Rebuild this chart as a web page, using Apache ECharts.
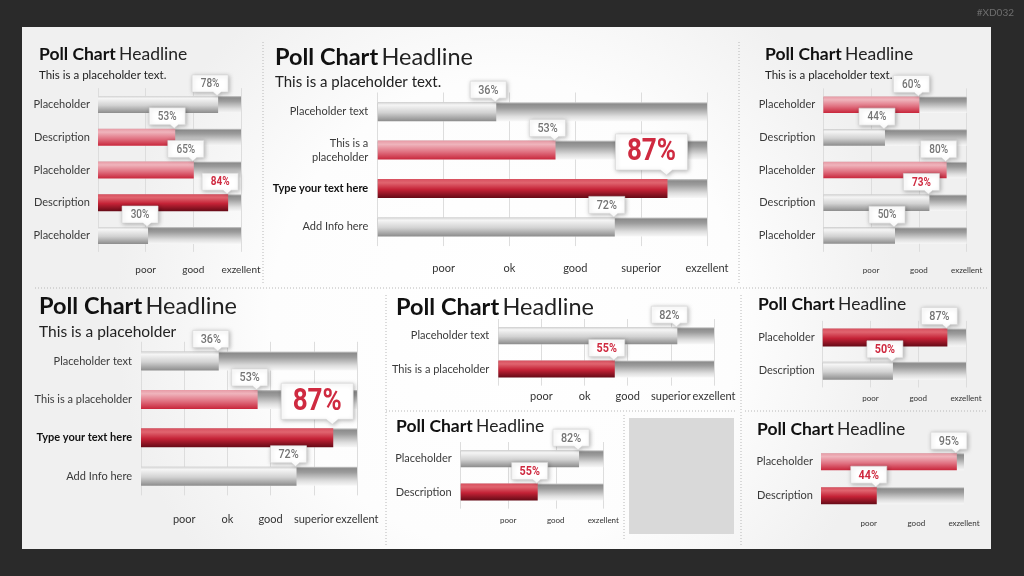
<!DOCTYPE html>
<html><head><meta charset="utf-8">
<script src="https://cdn.jsdelivr.net/npm/echarts@6/dist/echarts.min.js"></script>
<style>html,body{margin:0;padding:0;background:#2a2a2a}#c{width:1024px;height:576px}</style>
</head><body><div id="c"></div><script>
// ---------- data ----------
const ticks3 = ['poor', 'good', 'exzellent'];
const ticks5 = ['poor', 'ok', 'good', 'superior', 'exzellent'];

const p1Categories = ['Placeholder', 'Description', 'Placeholder', 'Description', 'Placeholder'];
const p1Values = [84, 54, 67, 91, 35];
const p1Callouts = ['78%', '53%', '65%', '84%', '30%'];

const p2Categories = ['Placeholder text', 'This is a\nplaceholder', 'Type your text here', 'Add Info here'];
const p2Values = [36, 54, 88, 72];
const p2Callouts = ['36%', '53%', '87%', '72%'];

const p3Categories = ['Placeholder', 'Description', 'Placeholder', 'Description', 'Placeholder'];
const p3Values = [67, 43, 86, 74, 50];
const p3Callouts = ['60%', '44%', '80%', '73%', '50%'];

const p4Categories = ['Placeholder text', 'This is a placeholder', 'Type your text here', 'Add Info here'];
const p4Values = [36, 54, 89, 72];
const p4Callouts = ['36%', '53%', '87%', '72%'];

const p5Categories = ['Placeholder text', 'This is a placeholder'];
const p5Values = [83, 54];
const p5Callouts = ['82%', '55%'];

const p6Categories = ['Placeholder', 'Description'];
const p6Values = [83, 54];
const p6Callouts = ['82%', '55%'];

const p7Categories = ['Placeholder', 'Description'];
const p7Values = [87, 49];
const p7Callouts = ['87%', '50%'];

const p8Categories = ['Placeholder', 'Description'];
const p8Values = [95, 39];
const p8Callouts = ['95%', '44%'];

// ---------- layout / style ----------
const FONT = 'Lato, "Open Sans", sans-serif';
const NUMFONT = 'Roboto, "Liberation Sans", sans-serif';

const panels = [
  {cats: p1Categories, vals: p1Values, calls: p1Callouts, ticks: ticks3, left: 98, right: 241, c0: 104.5, band: 32.75, barH: 17, xLabY: 270.5, xfs: 10, yfs: 11, ym: 8, tones: ['gray','pink','pink','red','gray'], red: [3], big: -1, cfs: 12.5, grid: true, bold: -1},
  {cats: p2Categories, vals: p2Values, calls: p2Callouts, ticks: ticks5, left: 377.7, right: 707, c0: 111.7, band: 38.4, barH: 19, xLabY: 269.5, xfs: 11, yfs: 11, ym: 9.5, tones: ['gray','pink','red','gray'], red: [2], big: 2, cfs: 13.5, grid: true, bold: 2},
  {cats: p3Categories, vals: p3Values, calls: p3Callouts, ticks: ticks3, left: 823.3, right: 966.7, c0: 104.7, band: 32.7, barH: 16.5, xLabY: 270.7, xfs: 8, yfs: 11, ym: 8, tones: ['pink','gray','pink','gray','gray'], red: [3], big: -1, cfs: 12.5, grid: true, bold: -1},
  {cats: p4Categories, vals: p4Values, calls: p4Callouts, ticks: ticks5, left: 141, right: 357, c0: 361, band: 38.4, barH: 19, xLabY: 519.8, xfs: 11, yfs: 11, ym: 9, tones: ['gray','pink','red','gray'], red: [2], big: 2, cfs: 13.5, grid: true, bold: 2},
  {cats: p5Categories, vals: p5Values, calls: p5Callouts, ticks: ticks5, left: 498.3, right: 714, c0: 335.7, band: 33.3, barH: 17, xLabY: 397, xfs: 11, yfs: 11, ym: 9, tones: ['gray','red'], red: [1], big: -1, cfs: 13.5, grid: true, bold: -1},
  {cats: p6Categories, vals: p6Values, calls: p6Callouts, ticks: ticks3, left: 460.7, right: 603.3, c0: 458.7, band: 33.3, barH: 17, xLabY: 520.5, xfs: 8, yfs: 11, ym: 9, tones: ['gray','red'], red: [1], big: -1, cfs: 13.5, grid: true, bold: -1},
  {cats: p7Categories, vals: p7Values, calls: p7Callouts, ticks: ticks3, left: 822.7, right: 966, c0: 337.5, band: 33.3, barH: 18, xLabY: 398.5, xfs: 8, yfs: 11, ym: 8, tones: ['red','gray'], red: [1], big: -1, cfs: 13.5, grid: true, bold: -1},
  {cats: p8Categories, vals: p8Values, calls: p8Callouts, ticks: ticks3, left: 821, right: 964, c0: 461.7, band: 34, barH: 17, xLabY: 524, xfs: 8, yfs: 11, ym: 8, tones: ['pink','red'], red: [1], big: -1, cfs: 13.5, grid: false, bold: -1}
];

const titles = [
  {x: 39, y: 54, fs: 17.5}, {x: 275, y: 57.5, fs: 23.5}, {x: 765, y: 54, fs: 17.5}, {x: 39, y: 306.5, fs: 23.5},
  {x: 396, y: 307.5, fs: 23.5}, {x: 396, y: 426, fs: 17.5}, {x: 758, y: 304.5, fs: 17.5}, {x: 757, y: 429.5, fs: 17.5}
];
const subtitles = [
  {x: 39, y: 75, fs: 11.5, t: 'This is a placeholder text.'},
  {x: 275, y: 82.5, fs: 15, t: 'This is a placeholder text.'},
  {x: 765, y: 75, fs: 11.5, t: 'This is a placeholder text.'},
  {x: 39, y: 332, fs: 15.5, t: 'This is a placeholder'}
];
const dots = [
  [263, 42, 263, 283], [739, 42, 739, 283], [35, 288, 988, 288],
  [386, 295, 386, 545], [386, 411, 735, 411], [624, 415, 624, 540],
  [741, 295, 741, 545], [745, 411, 988, 411]
];

function grad(stops) {
  return new echarts.graphic.LinearGradient(0, 0, 0, 1, stops.map(s => ({offset: s[0], color: s[1]})));
}
const TONES = {
  track: [[0,'#cfcfcf'],[0.1,'#8c8c8c'],[0.3,'#9c9c9c'],[0.75,'#dedede'],[1,'#f7f7f7']],
  gray: [[0,'#d2d2d2'],[0.15,'#f5f5f5'],[0.55,'#d2d2d2'],[1,'#8c8c8c']],
  pink: [[0,'#e79aa5'],[0.2,'#efb4bc'],[0.6,'#e07080'],[1,'#c8263b']],
  red: [[0,'#d8505f'],[0.2,'#e0646f'],[0.55,'#c42236'],[1,'#650a16']]
};

function makeCallout(cfg) {
  return function (params, api) {
    const i = params.dataIndex;
    const p = api.coord([api.value(0), api.value(1)]);
    const big = i === cfg.big;
    const isRed = cfg.red.indexOf(i) >= 0;
    const w = big ? 72 : 36, h = big ? 36 : 17;
    const lo = big ? 52 : 26;
    const gap = big ? 9 : 4;
    const tipH = big ? 5 : 3.5, tipW = big ? 6 : 4;
    const barTop = p[1] - cfg.barH / 2;
    const tx = p[0] - 1;
    const x0 = p[0] - lo, x1 = x0 + w, y1 = barTop - gap, y0 = y1 - h;
    const pts = [[x0, y0], [x1, y0], [x1, y1], [tx + tipW, y1], [tx, y1 + tipH], [tx - tipW, y1], [x0, y1]];
    const fs = big ? 31 : cfg.cfs;
    return {
      type: 'group',
      children: [
        {type: 'polygon', shape: {points: pts},
         style: {fill: '#ffffff', stroke: '#d6d6d6', lineWidth: 0.6, shadowBlur: 4, shadowColor: 'rgba(0,0,0,0.28)', shadowOffsetX: 1, shadowOffsetY: 1}},
        {type: 'text', x: (x0 + x1) / 2, y: (y0 + y1) / 2 + 0.5, scaleX: big ? 0.84 : 0.8,
         style: {text: cfg.calls[i], x: 0, y: 0, align: 'center', verticalAlign: 'middle',
                 fill: isRed ? '#cf2a40' : '#747474',
                 font: (isRed || big ? 'bold ' : '500 ') + fs + 'px ' + NUMFONT}}
      ]
    };
  };
}

const grids = [], xAxes = [], yAxes = [], series = [];
panels.forEach((cfg, i) => {
  const n = cfg.cats.length;
  const top = cfg.c0 - cfg.band / 2;
  const height = n * cfg.band;
  const step = 100 / cfg.ticks.length;
  grids.push({left: cfg.left, top: top, width: cfg.right - cfg.left, height: height, containLabel: false, outerBoundsMode: 'none'});
  xAxes.push({
    gridIndex: i, type: 'value', min: 0, max: 100, interval: step,
    axisLine: {show: false}, axisTick: {show: false},
    splitLine: {show: cfg.grid, lineStyle: {color: '#dddddd', width: 1}},
    axisLabel: {fontSize: cfg.xfs, color: '#333', fontFamily: FONT,
      margin: cfg.xLabY - (top + height) - cfg.xfs * 0.55,
      formatter: v => v < 1 ? '' : (cfg.ticks[Math.round(v / step) - 1] || '')}
  });
  yAxes.push({
    gridIndex: i, type: 'category', inverse: true, data: cfg.cats,
    axisLine: {show: false}, axisTick: {show: false}, splitLine: {show: false},
    axisLabel: {fontSize: cfg.yfs, color: '#3a3a3a', fontFamily: FONT, margin: cfg.ym, lineHeight: 14,
      formatter: (v, idx) => idx === cfg.bold ? '{b|' + v + '}' : v,
      rich: {b: {fontWeight: 'bold', color: '#111', fontSize: cfg.yfs, fontFamily: FONT}}}
  });
  series.push({type: 'bar', xAxisIndex: i, yAxisIndex: i, barWidth: cfg.barH, barGap: '-100%', silent: true, z: 2,
    data: cfg.cats.map(() => ({value: 100, itemStyle: {color: grad(TONES.track)}}))});
  series.push({type: 'bar', xAxisIndex: i, yAxisIndex: i, barWidth: cfg.barH, barGap: '-100%', silent: true, z: 3,
    data: cfg.vals.map((v, k) => ({value: v, itemStyle: {color: grad(TONES[cfg.tones[k]])}}))});
  series.push({type: 'custom', xAxisIndex: i, yAxisIndex: i, silent: true, z: 6, clip: false,
    encode: {x: 0, y: 1},
    data: cfg.vals.map((v, k) => [v, k]),
    renderItem: makeCallout(cfg)});
});

const graphic = [];
graphic.push({type: 'rect', z: -10, shape: {x: 22, y: 27, width: 969, height: 522},
  style: {fill: new echarts.graphic.RadialGradient(0.5, 0.55, 0.75, [{offset: 0, color: '#ffffff'}, {offset: 0.6, color: '#fdfdfd'}, {offset: 1, color: '#f0f0f0'}])}});
graphic.push({type: 'rect', z: -9, shape: {x: 629, y: 418, width: 105, height: 116}, style: {fill: '#d9d9d9'}});
dots.forEach(d => graphic.push({type: 'line', z: -8, shape: {x1: d[0], y1: d[1], x2: d[2], y2: d[3]},
  style: {stroke: '#b8b8b8', lineWidth: 1, lineDash: [1, 2]}}));
titles.forEach(t => graphic.push({type: 'text', z: 1, style: {x: t.x, y: t.y, verticalAlign: 'middle', align: 'left',
  text: '{b|Poll Chart} {r|Headline}',
  rich: {b: {fontWeight: 'bold', fontSize: t.fs, fontFamily: FONT, fill: '#111'},
         r: {fontWeight: 'normal', fontSize: t.fs, fontFamily: FONT, fill: '#222'}}}}));
subtitles.forEach(t => graphic.push({type: 'text', z: 1, style: {x: t.x, y: t.y, verticalAlign: 'middle', align: 'left',
  text: t.t, fontSize: t.fs, fontFamily: FONT, fill: '#222'}}));
graphic.push({type: 'text', z: 1, style: {x: 1014, y: 13, align: 'right', verticalAlign: 'middle', text: '#XD032',
  fontSize: 10, fontFamily: FONT, fill: '#6e6e6e'}});

const chart = echarts.init(document.getElementById('c'), null, {renderer: 'canvas', width: 1024, height: 576});
chart.setOption({
  animation: false,
  backgroundColor: '#2a2a2a',
  grid: grids, xAxis: xAxes, yAxis: yAxes, series: series, graphic: graphic
});
</script></body></html>
